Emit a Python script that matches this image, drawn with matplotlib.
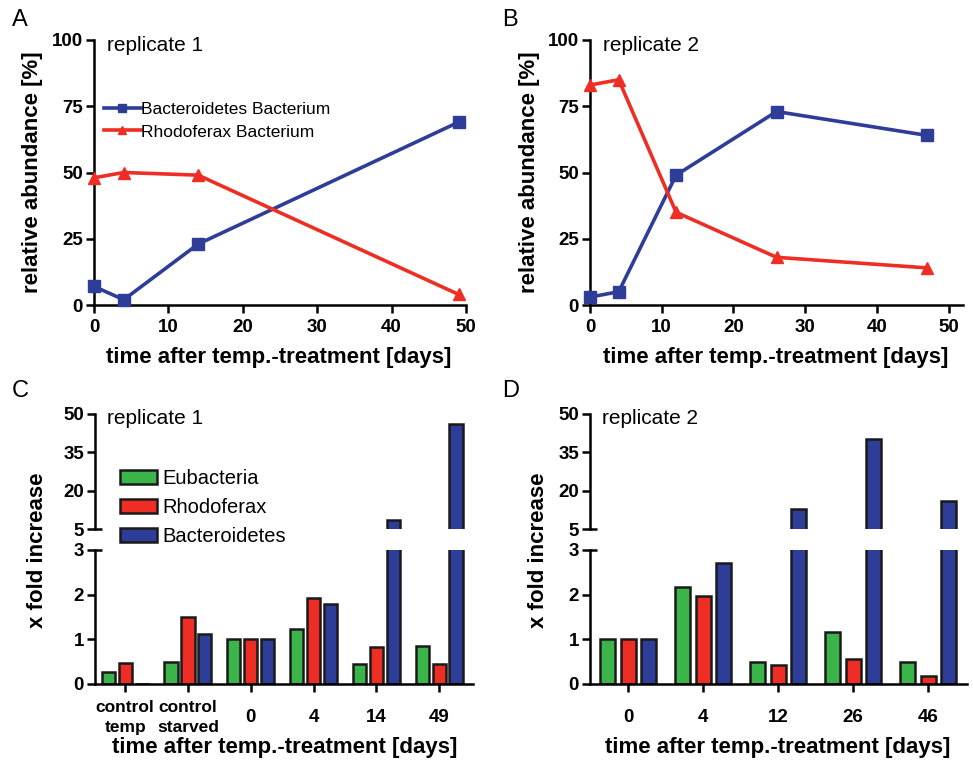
import matplotlib
matplotlib.use('Agg')
import matplotlib.pyplot as plt
import numpy as np

plt.rcParams['font.family'] = ['Liberation Sans', 'DejaVu Sans']

BLUE = '#2e3d97'
RED = '#ee2e24'
GREEN = '#3bb44a'

# panel A / B: relative abundance
days_a = [0, 4, 14, 49]
bact_a = [7, 2, 23, 69]
rhodo_a = [48, 50, 49, 4]

days_b = [0, 4, 12, 26, 47]
bact_b = [3, 5, 49, 73, 64]
rhodo_b = [83, 85, 35, 18, 14]

# panel C / D: fold increase
groups_c = ['control\ntemp', 'control\nstarved', '0', '4', '14', '49']
eub_c = [0.27, 0.50, 1.0, 1.24, 0.45, 0.84]
rho_c = [0.47, 1.50, 1.0, 1.92, 0.83, 0.45]
bac_c = [0.0, 1.13, 1.0, 1.80, 8.5, 46]

groups_d = ['0', '4', '12', '26', '46']
eub_d = [1.0, 2.17, 0.50, 1.16, 0.50]
rho_d = [1.0, 1.96, 0.43, 0.56, 0.17]
bac_d = [1.0, 2.70, 12.8, 40.2, 16.0]

W, H = 973, 762
fig = plt.figure(figsize=(W / 100, H / 100), dpi=100)

def px(l, t, r, b):
    return [l / W, 1 - b / H, (r - l) / W, (b - t) / H]

SPW = 1.8
TICKFS = 13.5
LABFS = 16
XLAB = 'time after temp.-treatment [days]'

def style(ax):
    for s in ['top', 'right']:
        ax.spines[s].set_visible(False)
    for s in ['left', 'bottom']:
        ax.spines[s].set_linewidth(SPW)
    ax.tick_params(width=SPW, length=6, labelsize=TICKFS, pad=2)
    for lab in ax.get_xticklabels() + ax.get_yticklabels():
        lab.set_fontweight('bold')


def line_panel(rect, days, bact, rhodo, xmax, title, legend=False):
    ax = fig.add_axes(rect)
    ax.plot(days, bact, color=BLUE, lw=2.6, marker='s', ms=8.5, clip_on=False,
            label='Bacteroidetes Bacterium', zorder=3)
    ax.plot(days, rhodo, color=RED, lw=2.6, marker='^', ms=8.5, clip_on=False,
            label='Rhodoferax Bacterium', zorder=3)
    ax.set_xlim(0, xmax)
    ax.set_ylim(0, 100)
    ax.set_xticks([0, 10, 20, 30, 40, 50])
    ax.set_yticks([0, 25, 50, 75, 100])
    style(ax)
    ax.tick_params(axis='x', pad=4)
    ax.text(0.035, 0.98, title, transform=ax.transAxes, fontsize=15,
            va='center', ha='left')
    if legend:
        ax.legend(loc='upper left', bbox_to_anchor=(0.027, 0.765), frameon=False,
                  fontsize=12.5, handlelength=2.1, handletextpad=0.05,
                  borderpad=0, borderaxespad=0, labelspacing=0.4,
                  markerscale=0.75)
    return ax


ax_a = line_panel(px(94, 40, 466, 305), days_a, bact_a, rhodo_a, 50,
                  'replicate 1', legend=True)
ax_b = line_panel(px(590, 40, 963, 305), days_b, bact_b, rhodo_b, 52,
                  'replicate 2')
for xc, yl in [(33, 172), (530, 172)]:
    fig.text(xc / W, 1 - yl / H, 'relative abundance [%]', rotation=90,
             fontsize=LABFS, fontweight='bold', ha='center', va='center')
for xc in [279, 776]:
    fig.text(xc / W, 1 - 358 / H, XLAB, fontsize=LABFS, fontweight='bold',
             ha='center', va='center')


def bar_panel(left, right, groups, eub, rho, bac, xlim, width, off, title):
    low = fig.add_axes(px(left, 550, right, 684))
    up = fig.add_axes(px(left, 414, right, 529))
    x = np.arange(len(groups))
    for ax in (low, up):
        for vals, col, dx, lab in [(eub, GREEN, -off, 'Eubacteria'),
                                   (rho, RED, 0, 'Rhodoferax'),
                                   (bac, BLUE, off, 'Bacteroidetes')]:
            ax.bar(x + dx, vals, width, color=col, edgecolor='#1a1a1a',
                   linewidth=1.8, label=lab)
        ax.set_xlim(*xlim)
    low.set_ylim(0, 3)
    low.set_yticks([0, 1, 2, 3])
    up.set_ylim(5, 50)
    up.set_yticks([5, 20, 35, 50])
    low.set_xticks(x)
    low.set_xticklabels(groups)
    style(low)
    style(up)
    up.spines['bottom'].set_visible(False)
    up.set_xticks([])
    low.tick_params(axis='x', pad=18)
    for lab in low.get_xticklabels():
        lab.set_fontsize(12.5 if '\n' in lab.get_text() else TICKFS)
        lab.set_linespacing(1.4)
        lab.set_verticalalignment('center')
    # break marks
    d = 7 / (right - left)
    up.plot([0, d], [0, 0], transform=up.transAxes, color='k', lw=SPW,
            clip_on=False, solid_capstyle='butt')
    low.plot([0, d], [1, 1], transform=low.transAxes, color='k', lw=SPW,
             clip_on=False, solid_capstyle='butt')
    up.text(0.032, 0.965, title, transform=up.transAxes, fontsize=15,
            va='center', ha='left')
    return low, up


low_c, up_c = bar_panel(95, 473, groups_c, eub_c, rho_c, bac_c,
                        (-0.48, 5.54), 0.21, 0.27, 'replicate 1')
low_d, up_d = bar_panel(590, 967, groups_d, eub_d, rho_d, bac_d,
                        (-0.51, 4.52), 0.20, 0.275, 'replicate 2')
for xc in [38, 538]:
    fig.text(xc / W, 1 - 550 / H, 'x fold increase', rotation=90,
             fontsize=LABFS, fontweight='bold', ha='center', va='center')
for xc in [285, 778]:
    fig.text(xc / W, 1 - 748 / H, XLAB, fontsize=LABFS, fontweight='bold',
             ha='center', va='center')

h, l = up_c.get_legend_handles_labels()
fig.legend(h, l, loc='upper left', bbox_to_anchor=(120 / W, 1 - 469 / H),
           frameon=False, fontsize=14.5, handlelength=1.85, handleheight=0.65,
           handletextpad=0.25, labelspacing=0.5, borderpad=0, borderaxespad=0)

for s, (x0, y0) in zip('ABCD', [(12, 20), (502, 20), (12, 391), (502, 391)]):
    fig.text(x0 / W, 1 - y0 / H, s, fontsize=17, ha='left', va='center')

fig.savefig('out.png', dpi=100)
